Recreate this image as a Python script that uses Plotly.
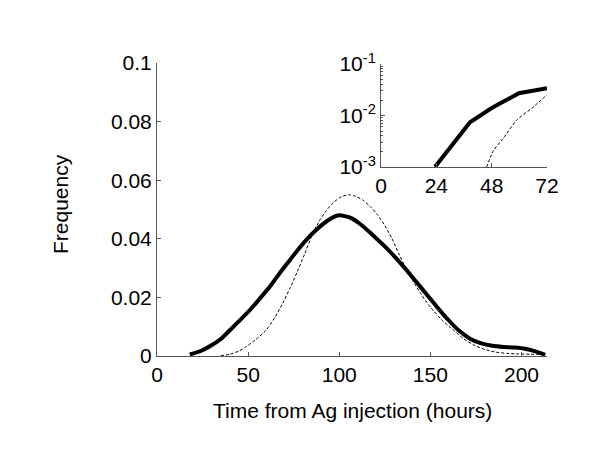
import plotly.graph_objects as go

# Main panel data
solid_x = [18, 24, 29, 35, 40, 45, 51, 56, 62, 67, 73, 78, 84, 90, 95, 100, 106, 112,
           118, 124, 130, 136, 142, 148, 154, 160, 166, 172, 178, 184, 190, 196, 202, 208, 213]
solid_y = [0.0005, 0.0017, 0.0033, 0.0058, 0.0088, 0.0119, 0.0157, 0.0193, 0.0237, 0.0280,
           0.0328, 0.0368, 0.0410, 0.0445, 0.0468, 0.0480, 0.0472, 0.0448, 0.0415, 0.0380,
           0.0342, 0.0300, 0.0255, 0.0210, 0.0165, 0.0122, 0.0085, 0.0058, 0.0043, 0.0035,
           0.0031, 0.0029, 0.0025, 0.0015, 0.0004]
dash_x = [35, 40, 45, 49, 54, 60, 65, 69, 73, 77, 81, 85, 89, 93, 97, 101, 105, 109, 113,
          117, 121, 125, 129, 133, 137, 141, 145, 150, 156, 162, 168, 174, 180, 186, 192,
          198, 205, 213]
dash_y = [0.0001, 0.0006, 0.0017, 0.0032, 0.0055, 0.0089, 0.0135, 0.0180, 0.0232, 0.0288,
          0.0348, 0.0410, 0.0460, 0.0497, 0.0525, 0.0543, 0.0550, 0.0545, 0.0532, 0.0510,
          0.0482, 0.0445, 0.0400, 0.0345, 0.0295, 0.0250, 0.0210, 0.0167, 0.0125, 0.0092,
          0.0060, 0.0037, 0.0022, 0.0013, 0.0009, 0.0007, 0.0006, 0.0005]

# Inset data (log scale)
inset_solid_x = [23.4, 38.6, 48, 59.8, 72]
inset_solid_y = [0.001, 0.0074, 0.014, 0.027, 0.034]
inset_dash_x = [45.8, 48.8, 53, 58.9, 65.4, 71.9]
inset_dash_y = [0.001, 0.0021, 0.0036, 0.0082, 0.0138, 0.025]

main_xticks = [0, 50, 100, 150, 200]
main_yticks = [0, 0.02, 0.04, 0.06, 0.08, 0.1]
main_yticklabels = ["0", "0.02", "0.04", "0.06", "0.08", "0.1"]
inset_xticks = [0, 24, 48, 72]
inset_yticks = [0.001, 0.01, 0.1]
inset_yticklabels = ["10<sup>-3</sup>", "10<sup>-2</sup>", "10<sup>-1</sup>"]
inset_yminor = [0.002, 0.003, 0.004, 0.005, 0.006, 0.007, 0.008, 0.009,
                0.02, 0.03, 0.04, 0.05, 0.06, 0.07, 0.08, 0.09]

W, H = 600, 464
OFF = 8  # page body margin offset
FONT = "Liberation Sans, Arial, sans-serif"
FS = 21
AX = "#555555"


def px(v):
    return (v - OFF) / W


def py(v):
    return 1 - (v - OFF) / H


fig = go.Figure()
fig.add_trace(go.Scatter(x=solid_x, y=solid_y, mode="lines",
                         line=dict(color="black", width=4, shape="spline", smoothing=0.6),
                         xaxis="x", yaxis="y", showlegend=False))
fig.add_trace(go.Scatter(x=dash_x, y=dash_y, mode="lines",
                         line=dict(color="black", width=1, dash="3px,2px", shape="spline", smoothing=0.6),
                         xaxis="x", yaxis="y", showlegend=False))
fig.add_trace(go.Scatter(x=inset_solid_x, y=inset_solid_y, mode="lines", line=dict(color="black", width=4),
                         xaxis="x2", yaxis="y2", showlegend=False))
fig.add_trace(go.Scatter(x=inset_dash_x, y=inset_dash_y, mode="lines",
                         line=dict(color="black", width=1, dash="3px,2px", shape="spline", smoothing=0.6),
                         xaxis="x2", yaxis="y2", showlegend=False))

common = dict(showgrid=False, zeroline=False, showline=True, linecolor=AX, linewidth=1,
              ticks="inside", ticklen=4, tickcolor=AX, automargin=False,
              tickfont=dict(size=FS, color="black", family=FONT))

fig.update_layout(
    width=W, height=H, margin=dict(l=0, r=0, t=0, b=0, pad=0, autoexpand=False),
    paper_bgcolor="white", plot_bgcolor="rgba(0,0,0,0)",
    font=dict(family=FONT, size=FS, color="black"),
    xaxis=dict(domain=[px(157), px(547)], range=[0, 214], tickvals=main_xticks, anchor="y", **common),
    yaxis=dict(domain=[py(356), py(63)], range=[0, 0.1], tickvals=main_yticks,
               ticktext=main_yticklabels, anchor="x", **common),
    xaxis2=dict(domain=[px(381), px(547)], range=[0, 72], tickvals=inset_xticks, anchor="y2", **common),
    yaxis2=dict(domain=[py(167), py(64)], type="log", range=[-3, -1], tickvals=inset_yticks,
                ticktext=inset_yticklabels, anchor="x2",
                minor=dict(tickvals=inset_yminor, ticks="inside", ticklen=2, tickcolor=AX),
                **common),
    annotations=[
        dict(text="Time from Ag injection (hours)", x=px(352), y=py(410), xref="paper", yref="paper",
             showarrow=False, font=dict(size=FS, family=FONT), xanchor="center", yanchor="middle"),
        dict(text="Frequency", x=px(60), y=py(204), xref="paper", yref="paper", textangle=-90,
             showarrow=False, font=dict(size=FS, family=FONT), xanchor="center", yanchor="middle"),
    ],
)

fig.write_html("out.html")
